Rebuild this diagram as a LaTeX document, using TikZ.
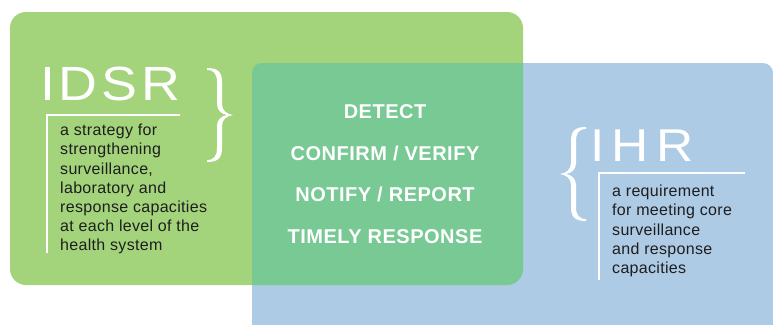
\documentclass[tikz,border=0pt]{standalone}
\usepackage{fontspec}
\setmainfont{Liberation Sans}
\definecolor{idsrgreen}{HTML}{A3D47B}
\definecolor{ihrblue}{HTML}{AECBE6}
\definecolor{overlapgreen}{HTML}{78C994}
\definecolor{bodytext}{HTML}{1E1E1E}
\tikzset{
  bigtitle/.style={text=white, inner sep=0pt, xscale=1.12},
  bodybox/.style={text=bodytext, inner sep=0pt, align=left, font=\fontsize{16}{19.2}\selectfont\addfontfeatures{LetterSpace=2}},
  steptext/.style={text=white, inner sep=0pt, font=\bfseries\fontsize{20}{22}\selectfont\addfontfeatures{LetterSpace=2.5}},
  whiteline/.style={draw=white, line width=1.5pt},
  bracefill/.style={fill=white},
}
\newcommand{\bracepath}{(0,0) .. controls (11,0) and (15,4) .. (15,14) -- (15,36) .. controls (15,43) and (20,46) .. (26,47) .. controls (20,48) and (15,51) .. (15,58) -- (15,80) .. controls (15,90) and (11,94) .. (0,94) -- (0,92) .. controls (7,92) and (10,88) .. (10,80) -- (10,58) .. controls (10,52) and (14,48) .. (20,47) .. controls (14,46) and (10,42) .. (10,36) -- (10,14) .. controls (10,6) and (7,2) .. (0,2) -- cycle}
\begin{document}
\begin{tikzpicture}[x=1pt,y=-1pt]
\useasboundingbox (0,0) rectangle (773,324);
\begin{scope}
\clip (0,0) rectangle (773,324);
\fill[ihrblue, rounded corners=10] (252,63) rectangle (773,334);
\fill[idsrgreen, rounded corners=16] (10,12) rectangle (523,285);
\begin{scope}
\clip[rounded corners=16] (10,12) rectangle (523,285);
\fill[overlapgreen, rounded corners=10] (252,63) rectangle (773,334);
\end{scope}
\end{scope}

% IDSR
\node[bigtitle, anchor=base west, font=\fontsize{48}{50}\selectfont\addfontfeatures{LetterSpace=7}] (idsr) at (40,100) {IDSR};
\coordinate (idsrcorner) at (47,115);
\coordinate (idsrend) at (180,115);
\coordinate (idsrbottom) at (47,253);
\draw[whiteline] (idsrend) -- (idsrcorner) -- (idsrbottom);
\node[bodybox, anchor=north west] (idsrtext) at (60,124) {a strategy for\\strengthening\\surveillance,\\laboratory and\\response capacities\\at each level of the\\health system};
\fill[bracefill, shift={(207,68)}] \bracepath;

% centre steps
\node[steptext, anchor=base] (detect) at (385,118) {DETECT};
\node[steptext, anchor=base] (confirm) at (385,160) {CONFIRM / VERIFY};
\node[steptext, anchor=base] (notify) at (385,201) {NOTIFY / REPORT};
\node[steptext, anchor=base] (timely) at (385,243) {TIMELY RESPONSE};

% IHR
\node[bigtitle, anchor=base west, font=\fontsize{46}{48}\selectfont\addfontfeatures{LetterSpace=14}] (ihr) at (590,161) {IHR};
\coordinate (ihrcorner) at (599,173);
\coordinate (ihrend) at (745,173);
\coordinate (ihrbottom) at (599,280);
\draw[whiteline] (ihrend) -- (ihrcorner) -- (ihrbottom);
\node[bodybox, anchor=north west] (ihrtext) at (612,185) {a requirement\\for meeting core\\surveillance\\and response\\capacities};
\fill[bracefill, shift={(586,127)}, xscale=-1] \bracepath;
\end{tikzpicture}
\end{document}
